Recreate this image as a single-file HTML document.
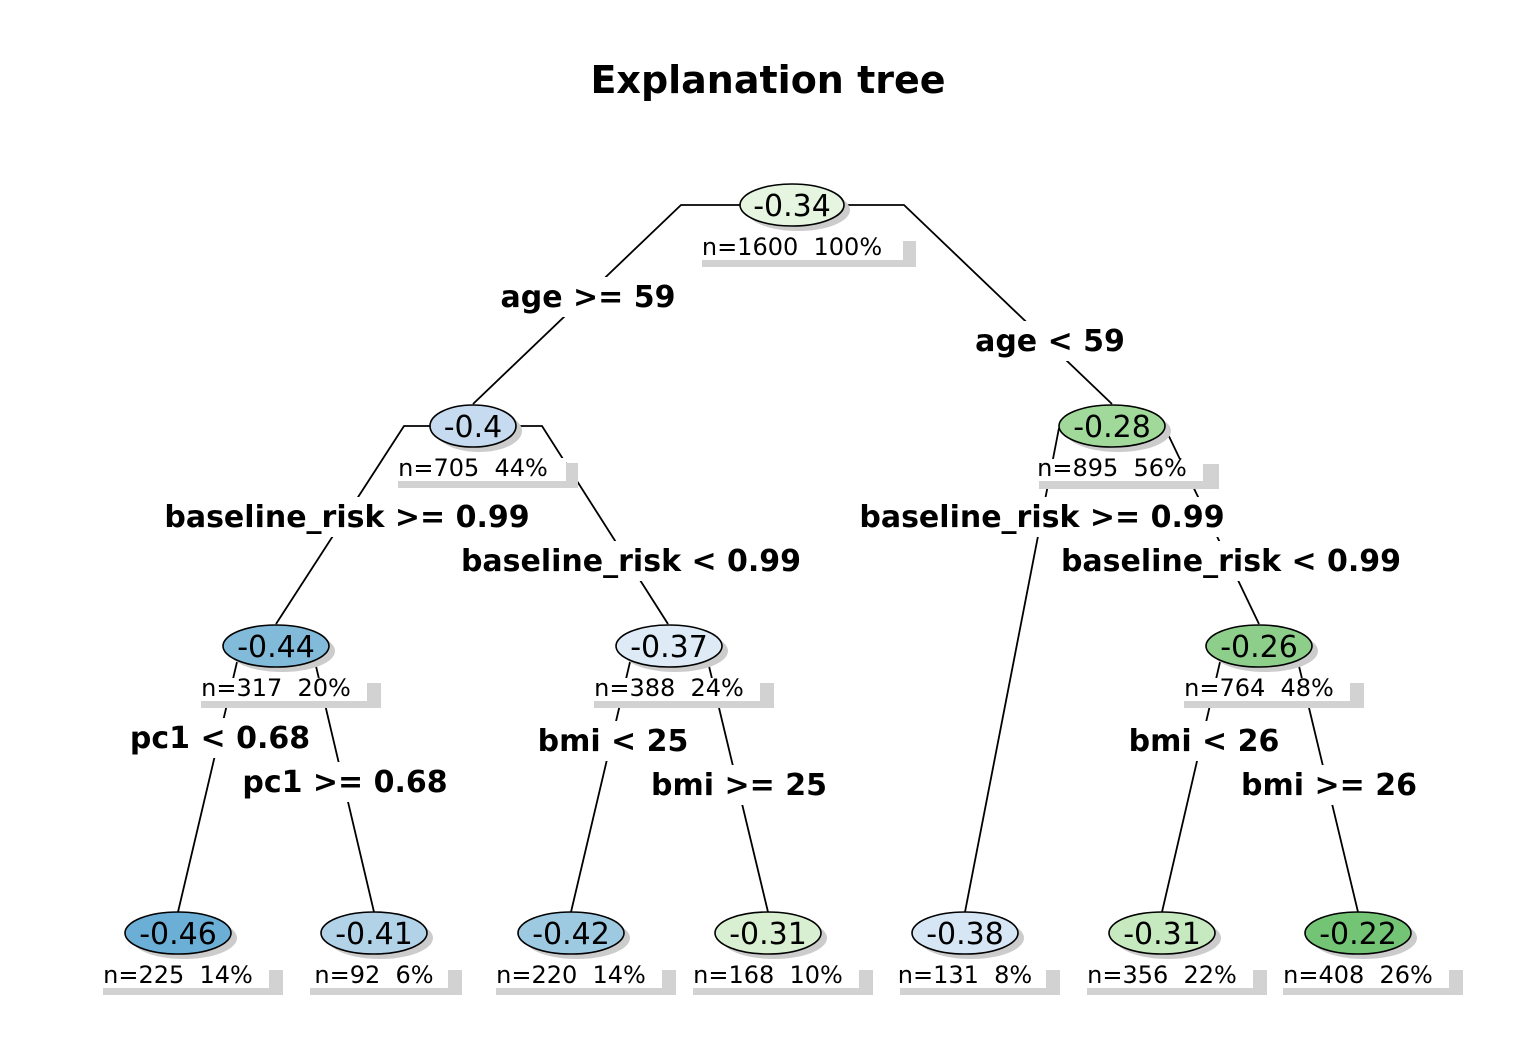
<!DOCTYPE html>
<html><head><meta charset="utf-8"><style>
html,body{margin:0;padding:0;background:#fff;}
svg{display:block;}
text{font-family:"DejaVu Sans","Liberation Sans",sans-serif;}
.n{font-size:30px;text-anchor:middle;}
.i{font-size:24px;text-anchor:middle;white-space:pre;}
.e{font-size:30px;font-weight:bold;text-anchor:middle;}
</style></head><body>
<svg width="1536" height="1056" viewBox="0 0 1536 1056" xmlns="http://www.w3.org/2000/svg">
<rect width="1536" height="1056" fill="#fff"/>
<text x="768" y="93" style="font-size:38px;font-weight:bold;text-anchor:middle">Explanation tree</text>
<g stroke="#000" stroke-width="1.8" fill="none">
<polyline points="740,205 681,205 473,404"/>
<polyline points="845,205 904,205 1112,404"/>
<polyline points="430,426 404,426 276,624"/>
<polyline points="516,426 542,426 668,624"/>
<line x1="1059" y1="428" x2="965" y2="912"/>
<line x1="1165" y1="428" x2="1259" y2="624"/>
<line x1="237" y1="662" x2="178" y2="912"/>
<line x1="315" y1="662" x2="374" y2="912"/>
<line x1="630" y1="662" x2="571" y2="912"/>
<line x1="708" y1="662" x2="768" y2="912"/>
<line x1="1220" y1="662" x2="1162" y2="912"/>
<line x1="1298" y1="662" x2="1358" y2="912"/>
</g>
<g>
<rect x="702" y="241" width="214" height="26" fill="#d2d2d2"/><rect x="690" y="236" width="213" height="24" fill="#fff"/>
<text class="i" x="792" y="255" xml:space="preserve">n=1600  100%</text>
<rect x="398" y="463" width="180" height="25" fill="#d2d2d2"/><rect x="386" y="458" width="180" height="23" fill="#fff"/>
<text class="i" x="473" y="476" xml:space="preserve">n=705  44%</text>
<rect x="1039" y="464" width="180" height="25" fill="#d2d2d2"/><rect x="1027" y="459" width="176" height="22" fill="#fff"/>
<text class="i" x="1112" y="476" xml:space="preserve">n=895  56%</text>
<rect x="201" y="683" width="180" height="25" fill="#d2d2d2"/><rect x="189" y="678" width="178" height="23" fill="#fff"/>
<text class="i" x="276" y="696" xml:space="preserve">n=317  20%</text>
<rect x="594" y="683" width="180" height="25" fill="#d2d2d2"/><rect x="582" y="678" width="178" height="23" fill="#fff"/>
<text class="i" x="669" y="696" xml:space="preserve">n=388  24%</text>
<rect x="1184" y="683" width="180" height="25" fill="#d2d2d2"/><rect x="1172" y="678" width="178" height="23" fill="#fff"/>
<text class="i" x="1259" y="696" xml:space="preserve">n=764  48%</text>
<rect x="103" y="970" width="180" height="25" fill="#d2d2d2"/><rect x="91" y="965" width="178" height="23" fill="#fff"/>
<text class="i" x="178" y="983" xml:space="preserve">n=225  14%</text>
<rect x="310" y="970" width="152" height="25" fill="#d2d2d2"/><rect x="298" y="965" width="150" height="23" fill="#fff"/>
<text class="i" x="374" y="983" xml:space="preserve">n=92  6%</text>
<rect x="496" y="970" width="180" height="25" fill="#d2d2d2"/><rect x="484" y="965" width="178" height="23" fill="#fff"/>
<text class="i" x="571" y="983" xml:space="preserve">n=220  14%</text>
<rect x="693" y="970" width="180" height="25" fill="#d2d2d2"/><rect x="681" y="965" width="178" height="23" fill="#fff"/>
<text class="i" x="768" y="983" xml:space="preserve">n=168  10%</text>
<rect x="900" y="970" width="160" height="25" fill="#d2d2d2"/><rect x="888" y="965" width="158" height="23" fill="#fff"/>
<text class="i" x="965" y="983" xml:space="preserve">n=131  8%</text>
<rect x="1087" y="970" width="180" height="25" fill="#d2d2d2"/><rect x="1075" y="965" width="178" height="23" fill="#fff"/>
<text class="i" x="1162" y="983" xml:space="preserve">n=356  22%</text>
<rect x="1283" y="970" width="180" height="25" fill="#d2d2d2"/><rect x="1271" y="965" width="178" height="23" fill="#fff"/>
<text class="i" x="1358" y="983" xml:space="preserve">n=408  26%</text>
</g>
<g stroke="#000" stroke-width="1.6">
<g fill="#ccc" stroke="none">
<ellipse cx="798" cy="210" rx="52" ry="21"/>
<ellipse cx="479" cy="431" rx="43" ry="21"/>
<ellipse cx="1118" cy="431" rx="53" ry="21"/>
<ellipse cx="282" cy="651" rx="53" ry="21"/>
<ellipse cx="675" cy="651" rx="53" ry="21"/>
<ellipse cx="1265" cy="651" rx="53" ry="21"/>
<ellipse cx="184" cy="938" rx="53" ry="21"/>
<ellipse cx="380" cy="938" rx="53" ry="21"/>
<ellipse cx="577" cy="938" rx="53" ry="21"/>
<ellipse cx="774" cy="938" rx="53" ry="21"/>
<ellipse cx="971" cy="938" rx="53" ry="21"/>
<ellipse cx="1168" cy="938" rx="53" ry="21"/>
<ellipse cx="1364" cy="938" rx="53" ry="21"/>
</g>
<ellipse cx="792" cy="205" rx="52" ry="21" fill="#e5f5e0"/>
<ellipse cx="473" cy="426" rx="43" ry="21" fill="#c6dbef"/>
<ellipse cx="1112" cy="426" rx="53" ry="21" fill="#a1d99b"/>
<ellipse cx="276" cy="646" rx="53" ry="21" fill="#82bada"/>
<ellipse cx="669" cy="646" rx="53" ry="21" fill="#deebf7"/>
<ellipse cx="1259" cy="646" rx="53" ry="21" fill="#8dcf8a"/>
<ellipse cx="178" cy="933" rx="53" ry="21" fill="#6baed6"/>
<ellipse cx="374" cy="933" rx="53" ry="21" fill="#b2d2e8"/>
<ellipse cx="571" cy="933" rx="53" ry="21" fill="#9ecae1"/>
<ellipse cx="768" cy="933" rx="53" ry="21" fill="#d8efd1"/>
<ellipse cx="965" cy="933" rx="53" ry="21" fill="#d6e6f4"/>
<ellipse cx="1162" cy="933" rx="53" ry="21" fill="#c7e9c0"/>
<ellipse cx="1358" cy="933" rx="53" ry="21" fill="#74c476"/>
</g>
<g>
<text class="n" x="792" y="216">-0.34</text>
<text class="n" x="473" y="437">-0.4</text>
<text class="n" x="1112" y="437">-0.28</text>
<text class="n" x="276" y="657">-0.44</text>
<text class="n" x="669" y="657">-0.37</text>
<text class="n" x="1259" y="657">-0.26</text>
<text class="n" x="178" y="944">-0.46</text>
<text class="n" x="374" y="944">-0.41</text>
<text class="n" x="571" y="944">-0.42</text>
<text class="n" x="768" y="944">-0.31</text>
<text class="n" x="965" y="944">-0.38</text>
<text class="n" x="1162" y="944">-0.31</text>
<text class="n" x="1358" y="944">-0.22</text>
</g>
<g fill="#fff">
<rect x="495" y="277" width="186" height="40"/>
<rect x="970" y="321" width="160" height="40"/>
<rect x="158" y="497" width="378" height="40"/>
<rect x="455" y="541" width="352" height="40"/>
<rect x="853" y="497" width="378" height="40"/>
<rect x="1055" y="541" width="352" height="40"/>
<rect x="125" y="718" width="190" height="40"/>
<rect x="237" y="762" width="216" height="40"/>
<rect x="532" y="721" width="162" height="40"/>
<rect x="646" y="765" width="186" height="40"/>
<rect x="1123" y="721" width="162" height="40"/>
<rect x="1236" y="765" width="186" height="40"/>
</g>
<g>
<text class="e" x="588" y="307">age &gt;= 59</text>
<text class="e" x="1050" y="351">age &lt; 59</text>
<text class="e" x="347" y="527">baseline_risk &gt;= 0.99</text>
<text class="e" x="631" y="571">baseline_risk &lt; 0.99</text>
<text class="e" x="1042" y="527">baseline_risk &gt;= 0.99</text>
<text class="e" x="1231" y="571">baseline_risk &lt; 0.99</text>
<text class="e" x="220" y="748">pc1 &lt; 0.68</text>
<text class="e" x="345" y="792">pc1 &gt;= 0.68</text>
<text class="e" x="613" y="751">bmi &lt; 25</text>
<text class="e" x="739" y="795">bmi &gt;= 25</text>
<text class="e" x="1204" y="751">bmi &lt; 26</text>
<text class="e" x="1329" y="795">bmi &gt;= 26</text>
</g>
</svg>
</body></html>
